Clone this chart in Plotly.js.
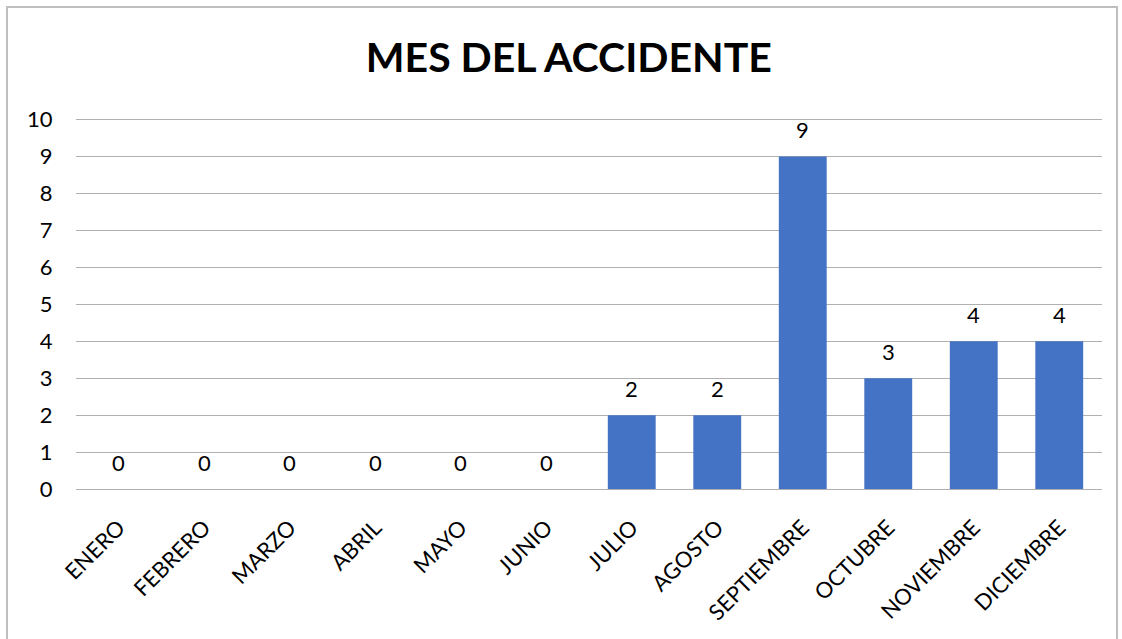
<!DOCTYPE html>
<html>
<head>
<meta charset="utf-8">
<script src="https://cdn.plot.ly/plotly-3.0.1.min.js"></script>
<style>
html,body{margin:0;padding:0;background:#fff;}
#wrap{position:relative;width:1122px;height:639px;overflow:hidden;}
#chart{width:1122px;height:639px;}
#frame{position:absolute;left:6px;top:6px;width:1112px;height:660px;border:2px solid #bfbfbf;box-sizing:border-box;pointer-events:none;}
</style>
</head>
<body>
<div id="wrap"><div id="chart"></div><div id="frame"></div></div>
<script>
const months = ['ENERO','FEBRERO','MARZO','ABRIL','MAYO','JUNIO','JULIO','AGOSTO','SEPTIEMBRE','OCTUBRE','NOVIEMBRE','DICIEMBRE'];
const counts = [0,0,0,0,0,0,2,2,9,3,4,4];
const yTicks = [0,1,2,3,4,5,6,7,8,9,10];
const chartTitle = 'MES DEL ACCIDENTE';

const font = 'Lato, "Open Sans", sans-serif';
Plotly.newPlot('chart', [{
  type: 'bar',
  x: months,
  y: counts,
  marker: {color: '#4472C4'},
  hoverinfo: 'x+y'
}], {
  width: 1122, height: 639,
  margin: {l: 76, r: 20, t: 116, b: 150},
  paper_bgcolor: '#fff', plot_bgcolor: '#fff',
  bargap: 0.44,
  showlegend: false,
  title: {text: '<b>' + chartTitle + '</b>', x: 0.507, xanchor: 'center', y: 0.91, yanchor: 'middle', xref: 'container', yref: 'container',
    font: {family: font, size: 41, color: '#000'}},
  annotations: months.map((m, i) => ({
    x: m, y: counts[i], xref: 'x', yref: 'y', text: String(counts[i]),
    showarrow: false, yshift: 27, yanchor: 'middle',
    font: {family: font, size: 22, color: '#000'}
  })),
  xaxis: {
    tickangle: -45, ticks: 'outside', ticklen: 16, tickcolor: 'rgba(0,0,0,0)',
    tickfont: {family: font, size: 22, color: '#000'},
    showline: true, linecolor: '#b0b0b0', linewidth: 1, showgrid: false, fixedrange: true
  },
  yaxis: {
    range: [0, 10.1], tickvals: yTicks, ticks: 'outside', ticklen: 18, tickcolor: 'rgba(0,0,0,0)',
    tickfont: {family: font, size: 22, color: '#000'},
    showgrid: true, gridcolor: '#b0b0b0', gridwidth: 1, zeroline: false, showline: false, fixedrange: true
  }
}, {displayModeBar: false, staticPlot: true});
</script>
</body>
</html>
